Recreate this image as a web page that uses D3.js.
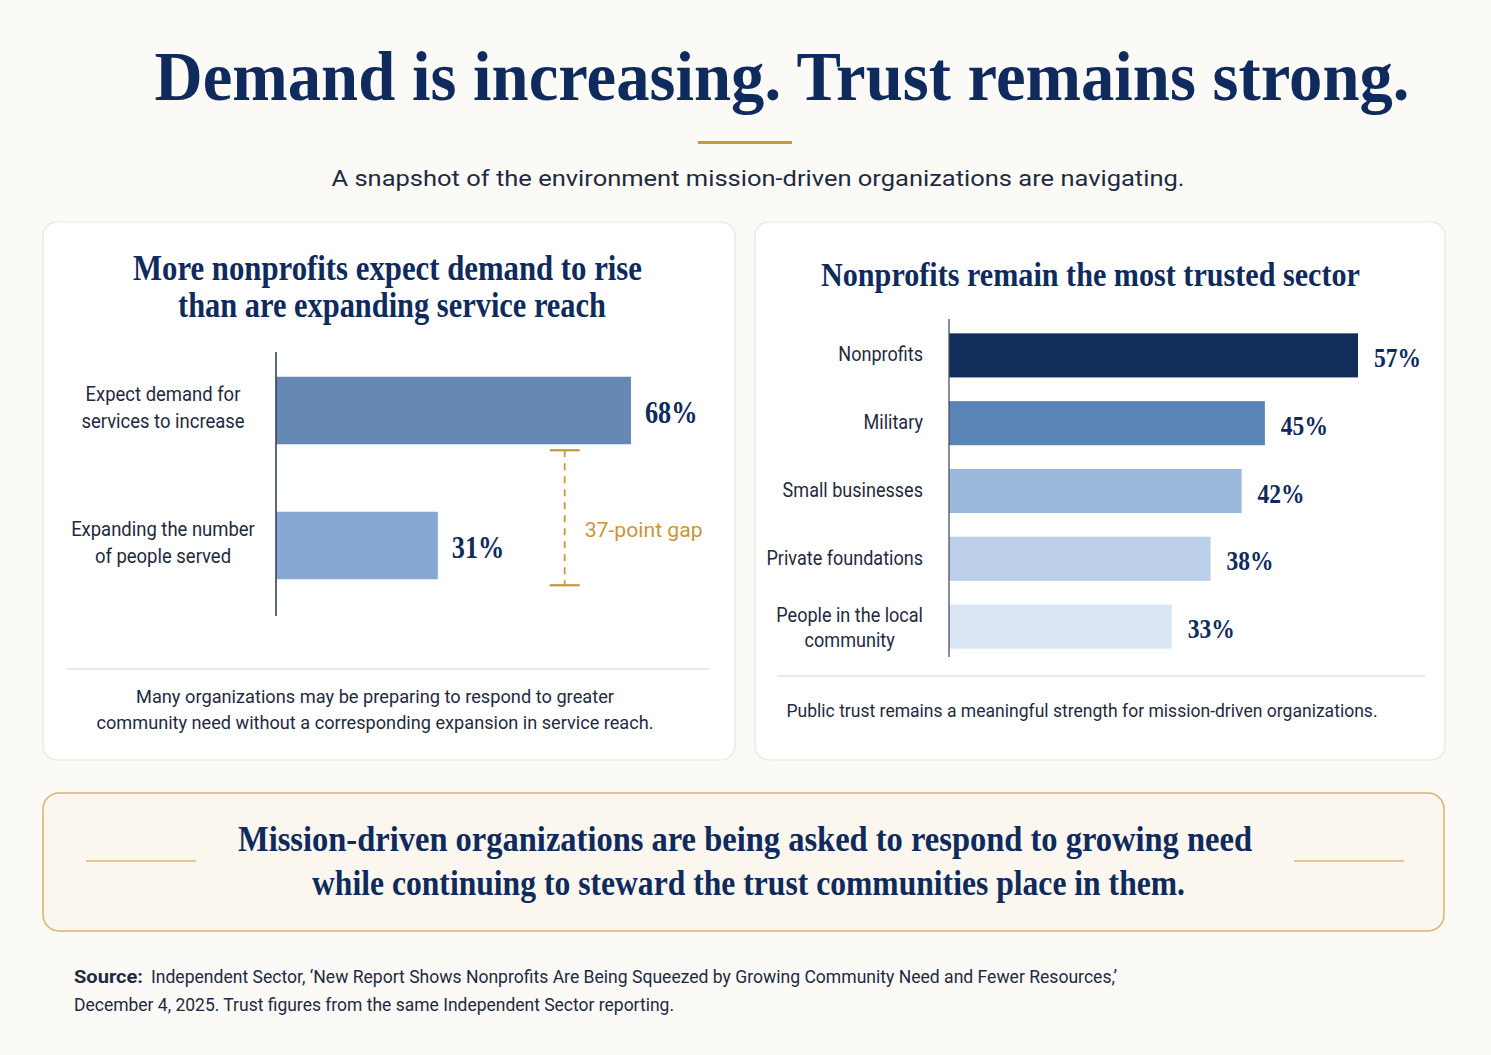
<!DOCTYPE html>
<html>
<head>
<meta charset="utf-8">
<script src="https://cdn.jsdelivr.net/npm/d3@7"></script>
<style>
  html, body { margin: 0; padding: 0; background: #fbfaf7; }
  svg { display: block; }
</style>
</head>
<body>
<div id="chart"></div>
<script>
// chart values
const demandLabels = [["Expect demand for", "services to increase"], ["Expanding the number", "of people served"]];
const demandValues = [68, 31];
const trustSectors = [["Nonprofits"], ["Military"], ["Small businesses"], ["Private foundations"], ["People in the local", "community"]];
const trustValues = [57, 45, 42, 38, 33];
const trustColors = ["#132d5a", "#5b84b6", "#9ab6d9", "#bccfe8", "#dbe6f5"];
const demandColors = ["#6588b5", "#86a8d2"];

const W = 1491, H = 1055;
const navy = "#0f2a5c", ink = "#1f2a3f", gold = "#c9963a";
const serif = "'Liberation Serif', 'DejaVu Serif', serif";
const sans = "Roboto, 'Noto Sans', sans-serif";

const svg = d3.select("#chart").append("svg")
    .attr("width", W)
    .attr("height", H);

svg.append("rect").attr("width", W).attr("height", H).attr("fill", "#fbfaf7");

// text helper, squeezes to a target width
function txt(g, s, x, y, o) {
    const t = g.append("text")
        .attr("x", x).attr("y", y)
        .attr("text-anchor", o.anchor || "middle")
        .style("font-family", o.family || sans)
        .style("font-size", o.size + "px")
        .style("font-weight", o.weight || 400)
        .attr("fill", o.fill || ink)
        .text(s);
    if (o.width) {
        t.attr("textLength", o.width).attr("lengthAdjust", "spacingAndGlyphs");
    } else if (o.k) {
        const n = t.node().getComputedTextLength();
        t.attr("textLength", n * o.k).attr("lengthAdjust", "spacingAndGlyphs");
    }
    return t;
}

// header
txt(svg, "Demand is increasing. Trust remains strong.", 782, 100,
    { family: serif, size: 70, weight: 700, fill: navy, width: 1255 });
svg.append("rect").attr("x", 698).attr("y", 141).attr("width", 94).attr("height", 3).attr("fill", gold);
txt(svg, "A snapshot of the environment mission-driven organizations are navigating.", 758, 186,
    { size: 22.5, fill: ink, width: 853 });

// panels
[[43, 692], [755, 690]].forEach(([x, w]) => {
    svg.append("rect")
        .attr("x", x).attr("y", 222).attr("width", w).attr("height", 538)
        .attr("rx", 14)
        .attr("fill", "#ffffff")
        .attr("stroke", "#e8e5de")
        .attr("stroke-width", 1.2);
});

// ---- left panel: demand vs reach
const left = svg.append("g");
txt(left, "More nonprofits expect demand to rise", 387.5, 280, { family: serif, size: 35, weight: 700, fill: navy, width: 509 });
txt(left, "than are expanding service reach", 392, 317, { family: serif, size: 35, weight: 700, fill: navy, width: 428 });

const xL = d3.scaleLinear().domain([0, 68]).range([276, 631]);
const yL = d3.scaleBand()
    .domain(d3.range(demandValues.length))
    .range([343, 613])
    .paddingInner(0.5)
    .paddingOuter(0.25);

left.selectAll(".bar")
    .data(demandValues)
    .enter()
    .append("rect")
    .attr("class", "bar")
    .attr("x", xL(0))
    .attr("y", (d, i) => yL(i))
    .attr("width", d => xL(d) - xL(0))
    .attr("height", yL.bandwidth())
    .attr("fill", (d, i) => demandColors[i]);

left.append("line")
    .attr("x1", xL(0)).attr("x2", xL(0))
    .attr("y1", 352).attr("y2", 616)
    .attr("stroke", "#3b4254").attr("stroke-width", 1.6);

demandValues.forEach((v, i) => {
    const cy = yL(i) + yL.bandwidth() / 2;
    txt(left, v + "%", xL(v) + 14, cy + 12, { anchor: "start", family: serif, size: 32, weight: 700, fill: navy, k: 0.82 });
    const lines = demandLabels[i];
    lines.forEach((s, j) => {
        const y = cy + 4 + (j - (lines.length - 1) / 2) * 27;
        txt(left, s, 163, y, { size: 20.5, fill: ink, k: 0.9 });
    });
});

// gap bracket
const gx = xL(55.3);
const gTop = yL(0) + yL.bandwidth() + 6;
const gBot = yL(1) + yL.bandwidth() + 6;
left.append("line")
    .attr("x1", gx).attr("x2", gx).attr("y1", gTop).attr("y2", gBot)
    .attr("stroke", gold).attr("stroke-width", 1.8).attr("stroke-dasharray", "7,6");
[gTop, gBot].forEach(y => {
    left.append("line")
        .attr("x1", gx - 15).attr("x2", gx + 15).attr("y1", y).attr("y2", y)
        .attr("stroke", gold).attr("stroke-width", 2.2);
});
txt(left, (demandValues[0] - demandValues[1]) + "-point gap", gx + 20, 537,
    { anchor: "start", size: 21, fill: gold, width: 118 });

left.append("line").attr("x1", 66).attr("x2", 710).attr("y1", 669).attr("y2", 669)
    .attr("stroke", "#e4e2dd").attr("stroke-width", 1.5);
txt(left, "Many organizations may be preparing to respond to greater", 375, 703, { size: 19, fill: ink, width: 478 });
txt(left, "community need without a corresponding expansion in service reach.", 375, 729, { size: 19, fill: ink, width: 557 });

// ---- right panel: trust by sector
const right = svg.append("g");
txt(right, "Nonprofits remain the most trusted sector", 1090.5, 286, { family: serif, size: 34, weight: 700, fill: navy, width: 539 });

const xR = d3.scaleLinear().domain([4.3, 57]).range([949, 1358]);
const yR = d3.scaleBand()
    .domain(d3.range(trustValues.length))
    .range([313, 669])
    .paddingInner(0.35)
    .paddingOuter(0.3);

right.selectAll(".bar")
    .data(trustValues)
    .enter()
    .append("rect")
    .attr("class", "bar")
    .attr("x", xR.range()[0])
    .attr("y", (d, i) => yR(i))
    .attr("width", d => xR(d) - xR.range()[0])
    .attr("height", yR.bandwidth())
    .attr("fill", (d, i) => trustColors[i]);

right.append("line")
    .attr("x1", 949).attr("x2", 949)
    .attr("y1", 319).attr("y2", 657)
    .attr("stroke", "#4a5060").attr("stroke-width", 1.3);

trustValues.forEach((v, i) => {
    const cy = yR(i) + yR.bandwidth() / 2;
    txt(right, v + "%", xR(v) + 16, cy + 11.5, { anchor: "start", family: serif, size: 28, weight: 700, fill: navy, k: 0.84 });
    const lines = trustSectors[i];
    const grp = right.append("g");
    const nodes = lines.map((s, j) => {
        const y = cy + (lines.length > 1 ? 2 : 0) + (j - (lines.length - 1) / 2) * 25;
        return txt(grp, s, 0, y + 6, { size: 20.5, fill: ink, k: 0.88 });
    });
    const wMax = d3.max(nodes, n => +n.attr("textLength"));
    grp.attr("transform", `translate(${923 - wMax / 2},0)`);
});

right.append("line").attr("x1", 777).attr("x2", 1425).attr("y1", 676).attr("y2", 676)
    .attr("stroke", "#e4e2dd").attr("stroke-width", 1.5);
txt(right, "Public trust remains a meaningful strength for mission-driven organizations.", 1082, 717,
    { size: 19, fill: ink, width: 591 });

// ---- banner
svg.append("rect")
    .attr("x", 43).attr("y", 793).attr("width", 1401).attr("height", 138)
    .attr("rx", 16)
    .attr("fill", "#fbf7ee")
    .attr("stroke", "#d9b26a")
    .attr("stroke-width", 1.5);
[[86, 196], [1294, 1404]].forEach(([a, b]) => {
    svg.append("line").attr("x1", a).attr("x2", b).attr("y1", 861).attr("y2", 861)
        .attr("stroke", "#e3c98f").attr("stroke-width", 2);
});
txt(svg, "Mission-driven organizations are being asked to respond to growing need", 745, 851,
    { family: serif, size: 36, weight: 700, fill: navy, width: 1014 });
txt(svg, "while continuing to steward the trust communities place in them.", 748.5, 895,
    { family: serif, size: 36, weight: 700, fill: navy, width: 873 });

// ---- source
txt(svg, "Source:", 74, 983, { anchor: "start", size: 18, weight: 700, fill: ink, width: 69 });
txt(svg, "Independent Sector, \u2018New Report Shows Nonprofits Are Being Squeezed by Growing Community Need and Fewer Resources,\u2019",
    151, 983, { anchor: "start", size: 18, fill: ink, width: 966 });
txt(svg, "December 4, 2025. Trust figures from the same Independent Sector reporting.", 74, 1011,
    { anchor: "start", size: 18, fill: ink, width: 600 });
</script>
</body>
</html>
